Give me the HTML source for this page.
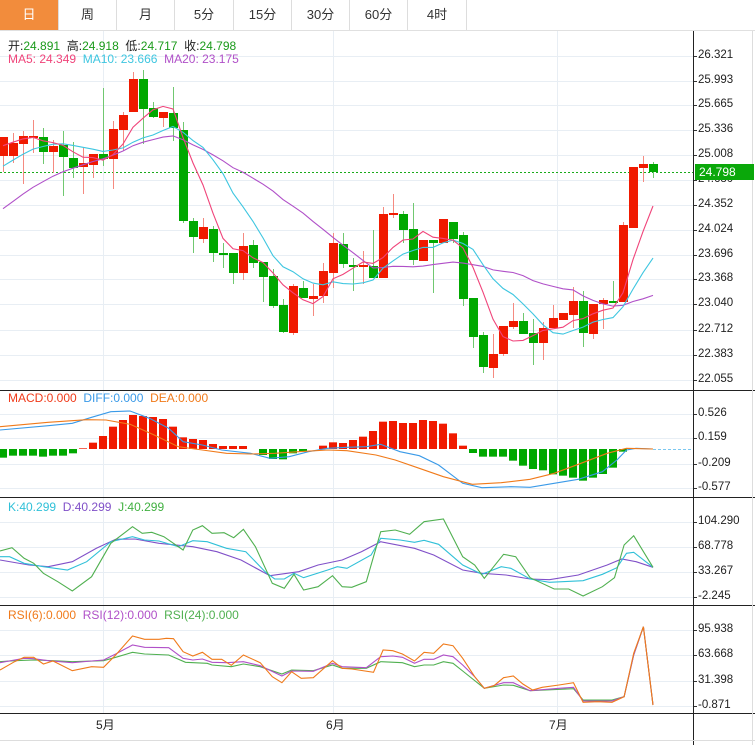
<!DOCTYPE html>
<html><head><meta charset="utf-8">
<style>
body{margin:0;width:755px;height:745px;overflow:hidden;background:#fff;font-family:"Liberation Sans","Noto Sans CJK SC",sans-serif;}
.tabs{position:absolute;left:0;top:0;height:30px;width:755px;border-bottom:1px solid #e0e0e0;}
.tab{position:absolute;top:0;height:30px;line-height:30px;text-align:center;font-size:13px;color:#333;border-right:1px solid #ddd;box-sizing:border-box;}
.lbl{position:absolute;font-size:12px;white-space:nowrap;}
.ax{position:absolute;left:698px;font-size:11.5px;color:#222;}
</style></head><body>
<div class="tabs">
<div class="tab" style="left:0;width:59px;background:#f28c3c;color:#fff">日</div>
<div class="tab" style="left:59px;width:58px">周</div>
<div class="tab" style="left:117px;width:58px">月</div>
<div class="tab" style="left:175px;width:59px">5分</div>
<div class="tab" style="left:234px;width:58px">15分</div>
<div class="tab" style="left:292px;width:58px">30分</div>
<div class="tab" style="left:350px;width:58px">60分</div>
<div class="tab" style="left:408px;width:59px">4时</div>
</div>
<svg id="s" width="755" height="745" style="position:absolute;left:0;top:0"></svg>
<div class="lbl" style="left:8px;top:37px;color:#222">开:<span style="color:#1a9a1a">24.891</span>&nbsp;&nbsp;高:<span style="color:#1a9a1a">24.918</span>&nbsp;&nbsp;低:<span style="color:#1a9a1a">24.717</span>&nbsp;&nbsp;收:<span style="color:#1a9a1a">24.798</span></div>
<div class="lbl" style="left:8px;top:52px"><span style="color:#f0447a">MA5: 24.349</span>&nbsp;&nbsp;<span style="color:#3ec6e0">MA10: 23.666</span>&nbsp;&nbsp;<span style="color:#b050c8">MA20: 23.175</span></div>
<div class="lbl" style="left:8px;top:391px"><span style="color:#f03a1a">MACD:0.000</span>&nbsp;&nbsp;<span style="color:#3a9ae8">DIFF:0.000</span>&nbsp;&nbsp;<span style="color:#f07a1a">DEA:0.000</span></div>
<div class="lbl" style="left:8px;top:500px"><span style="color:#30c0d8">K:40.299</span>&nbsp;&nbsp;<span style="color:#8050c8">D:40.299</span>&nbsp;&nbsp;<span style="color:#40b040">J:40.299</span></div>
<div class="lbl" style="left:8px;top:608px"><span style="color:#f07a1a">RSI(6):0.000</span>&nbsp;&nbsp;<span style="color:#b050c8">RSI(12):0.000</span>&nbsp;&nbsp;<span style="color:#50b050">RSI(24):0.000</span></div>
<div id="axes"></div>
<div class="lbl" style="left:96px;top:716px;color:#222">5月</div>
<div class="lbl" style="left:326px;top:716px;color:#222">6月</div>
<div class="lbl" style="left:549px;top:716px;color:#222">7月</div>
<div style="position:absolute;left:695px;top:164px;width:59px;height:16px;background:#0aa80a;color:#fff;font-size:12px;line-height:16px;padding-left:4px;box-sizing:border-box">24.798</div>
<script>
var S=document.getElementById('s'),NS='http://www.w3.org/2000/svg';
function el(t,a){var e=document.createElementNS(NS,t);for(var k in a)e.setAttribute(k,a[k]);S.appendChild(e);return e;}
function line(x1,y1,x2,y2,c,w,d){var o={x1:x1,y1:y1,x2:x2,y2:y2,stroke:c,'stroke-width':w||1};if(d)o['stroke-dasharray']=d;el('line',o);}
function poly(pts,c){el('polyline',{points:pts.map(function(p){return p[0].toFixed(1)+','+p[1].toFixed(1)}).join(' '),fill:'none',stroke:c,'stroke-width':1.1});}
var ax=document.getElementById('axes'),h='';
function axis(vals,ys){for(var i=0;i<vals.length;i++){h+='<div class="ax" style="top:'+(ys[i]-7)+'px">'+vals[i]+'</div>';line(0,ys[i]+.5,693,ys[i]+.5,'#e8eef4',1);line(693,ys[i]+.5,697,ys[i]+.5,'#333',1);}}
var pv=['26.321','25.993','25.665','25.336','25.008','24.680','24.352','24.024','23.696','23.368','23.040','22.712','22.383','22.055'];
var py=[56,81,105,130,155,180,205,230,255,279,304,330,355,380];
axis(pv,py);
axis(['0.526','0.159','-0.209','-0.577'],[414,438,464,488]);
axis(['104.290','68.778','33.267','-2.245'],[522,547,572,597]);
axis(['95.938','63.668','31.398','-0.871'],[630,655,681,706]);
ax.innerHTML=h;
[103,333,557].forEach(function(x){line(x+.5,31,x+.5,713,'#e8eef4',1);});
line(693.5,31,693.5,745,'#222',1);
line(0,390.5,755,390.5,'#222',1);line(0,497.5,755,497.5,'#222',1);line(0,605.5,755,605.5,'#222',1);line(0,713.5,755,713.5,'#222',1);
line(0,740.5,755,740.5,'#ddd',1);line(752.5,31,752.5,745,'#ddd',1);
var C=[[156,137,137,172],[156,143,133,163],[144,136,131,184],[138,136,120,153],[137,152,128,164],[152,146,140,173],[145,157,131,196],[158,168,142,178],[167,163,148,194],[165,154,154,178],
[154,159,88,166],[159,129,121,189],[130,115,112,151],[112,79,72,112],[79,109,70,144],[108,117,102,118],[118,112,112,127],[113,128,87,141],[130,221,122,223],[221,237,218,253],
[239,227,218,243],[229,253,226,262],[253,254,243,268],[253,273,253,284],[273,246,233,280],[245,263,240,268],[262,277,262,302],[276,306,269,308],[305,332,299,333],[333,286,284,335],
[288,298,281,298],[299,296,284,316],[296,271,263,303],[273,243,233,288],[244,264,233,268],[265,267,258,291],[267,265,251,284],[266,278,230,278],[278,214,207,278],[215,213,194,218],
[214,230,211,243],[229,260,203,265],[261,240,240,261],[240,243,240,293],[243,219,219,243],[222,239,222,243],[235,299,232,306],[298,337,298,348],[335,367,332,373],[368,354,334,378],
[354,326,326,356],[327,321,303,329],[321,334,313,334],[333,343,319,365],[343,328,322,360],[328,318,305,328],[320,313,313,320],[315,301,287,328],[301,333,291,347],[334,304,304,339],
[304,300,298,329],[301,302,281,302],[302,225,222,302],[228,167,167,228],[168,164,156,182],[164,172,162,178]];
var RED='#f01a00',GRN='#00a800';
line(0,172.5,693,172.5,'#1aab1a',1,'2,2');
C.forEach(function(c,i){var x=3+10*i,up=c[1]<c[0],col=up?RED:GRN;
line(x+.5,c[2],x+.5,c[3],up?'#f58a80':'#70c870',1);
var t=Math.min(c[0],c[1]),b=Math.max(c[0],c[1]);el('rect',{x:x-4,y:t,width:9,height:Math.max(b-t,2),fill:col});});
var cl=[];for(var k=0;k<19;k++)cl.push(290-155*k/18);C.forEach(function(c){cl.push(c[1]);});
function ma(n,col){var p=[];for(var i=0;i<C.length;i++){var j=i+19,s=0;for(var m=0;m<n;m++)s+=cl[j-m];p.push([3+10*i,s/n]);}poly(p,col);}
ma(20,'#b050c8');ma(10,'#3ec6e0');ma(5,'#f0447a');
var hb=[218,212,212,212,215,212,212,205,190,173,153,125,105,90,93,96,102,125,157,162,165,177,183,183,183,192,210,222,223,205,200,192,182,172,174,165,155,138,110,108,114,114,105,108,116,145,182,204,215,215,215,227,242,252,256,268,272,278,287,278,267,248,200,192,192,192];
hb.forEach(function(Y,i){var x=3+10*i,y=385+Y/3,z=449;if(Math.abs(y-z)<.5)return;el('rect',{x:x-4,y:Math.min(y,z),width:8,height:Math.abs(y-z),fill:y<z?RED:GRN});});
function tr(a,y0){return a.map(function(p){return[p[0]/2.075,y0+p[1]/3];});}
line(653,449.5,693,449.5,'#7cc8f0',1,'3,2');
poly(tr([[0,135],[100,122],[150,115],[190,97],[230,80],[270,78],[310,100],[350,130],[380,170],[420,180],[460,195],[520,205],[560,220],[600,215],[640,200],[680,190],[720,187],[760,185],[790,178],[830,200],[870,212],[910,240],[960,295],[1000,308],[1060,305],[1100,307],[1150,295],[1200,283],[1250,260],[1280,225],[1300,195],[1320,190],[1355,192]],385),'#3a9ae8');
poly(tr([[0,125],[100,112],[180,104],[220,105],[270,118],[320,150],[370,185],[420,195],[470,205],[520,207],[570,205],[620,200],[680,195],[720,197],[780,210],[820,225],[870,250],[920,275],[980,298],[1040,293],[1100,283],[1150,265],[1200,238],[1260,205],[1300,190],[1355,192]],385),'#f07a1a');
poly(tr([[0,525],[60,540],[100,545],[150,530],[200,490],[240,463],[280,462],[330,475],[400,485],[450,500],[500,525],[560,572],[620,560],[660,540],[710,525],[750,500],[790,470],[860,490],[900,510],[960,555],[1000,565],[1050,570],[1100,582],[1140,584],[1200,570],[1260,540],[1290,522],[1320,530],[1355,547]],385),'#8050c8');
poly(tr([[0,515],[20,515],[50,535],[90,545],[140,555],[180,530],[230,470],[275,455],[300,465],[330,468],[370,485],[400,467],[430,470],[470,490],[510,500],[550,560],[570,582],[590,582],[610,565],[630,578],[680,555],[700,545],[720,550],[770,510],[790,460],[830,465],[860,472],[880,466],[910,478],[960,540],[1000,568],[1040,545],[1060,550],[1100,582],[1140,592],[1210,587],[1250,568],[1280,548],[1300,505],[1315,502],[1355,547]],385),'#30c0d8');
poly(tr([[0,498],[25,488],[50,520],[70,535],[90,565],[120,590],[150,618],[190,575],[230,475],[275,425],[295,445],[315,442],[340,455],[380,495],[400,435],[420,422],[440,445],[465,443],[485,458],[505,433],[530,485],[565,595],[590,610],[610,568],[630,615],[660,605],[690,572],[710,605],[730,607],[760,590],[790,440],[820,435],[850,448],[880,410],[920,402],[960,515],[985,540],[1005,580],[1045,508],[1070,515],[1100,578],[1150,612],[1180,612],[1210,633],[1250,605],[1275,578],[1295,480],[1315,452],[1355,547]],385),'#50b050');
poly(tr([[0,185],[30,182],[70,180],[110,182],[150,185],[215,182],[240,172],[275,157],[300,162],[350,165],[385,187],[430,190],[440,195],[480,200],[505,192],[540,200],[585,222],[605,210],[650,212],[690,195],[710,205],[760,205],[790,185],[835,188],[860,200],[880,195],[900,195],[920,185],[940,190],[960,213],[1005,265],[1045,255],[1065,256],[1100,272],[1190,266],[1210,300],[1270,300],[1295,290],[1315,165],[1335,80],[1355,315]],600),'#50b050');
poly(tr([[0,188],[30,180],[50,175],[70,176],[100,182],[150,188],[190,183],[215,180],[240,162],[275,135],[300,142],[350,143],[380,175],[400,180],[420,177],[440,187],[470,188],[505,185],[540,197],[585,228],[605,213],[650,214],[690,190],[710,200],[760,203],[790,170],[815,168],[835,172],[860,190],[880,178],[900,178],[920,165],[940,170],[960,195],[985,230],[1005,265],[1045,248],[1065,248],[1100,272],[1160,265],[1190,262],[1210,303],[1270,303],[1295,290],[1315,165],[1335,80],[1355,315]],600),'#b050c8');
poly(tr([[0,210],[30,185],[50,172],[70,172],[90,192],[110,183],[150,212],[190,200],[215,202],[240,165],[275,108],[300,118],[330,118],[345,115],[360,116],[380,155],[400,168],[420,157],[440,178],[460,178],[480,196],[505,165],[540,188],[565,230],[585,248],[605,215],[625,235],[650,233],[690,182],[710,205],[730,207],[775,217],[795,150],[815,152],[835,162],[860,183],[880,157],[900,160],[920,132],[940,137],[960,175],[985,230],[1005,265],[1025,257],[1045,233],[1065,228],[1085,252],[1105,270],[1125,262],[1160,255],[1190,248],[1210,307],[1240,305],[1270,307],[1295,290],[1315,160],[1335,80],[1355,315]],600),'#f07a1a');
</script>
</body></html>
